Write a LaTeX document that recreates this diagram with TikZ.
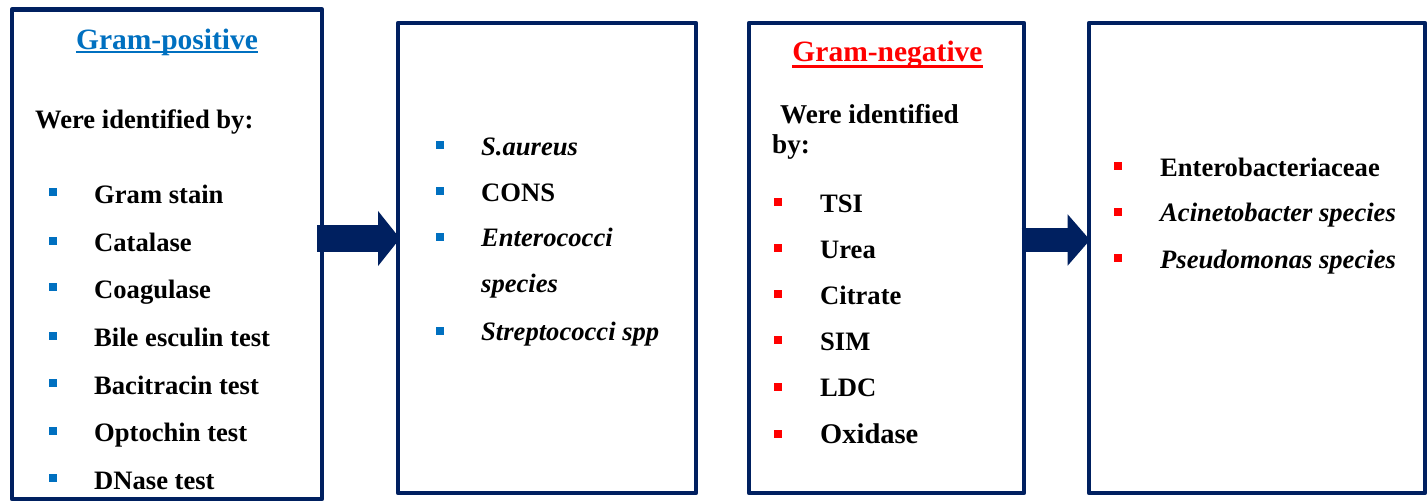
\documentclass[tikz,border=0pt]{standalone}
\usepackage{fontspec}
\setmainfont{Liberation Serif}
\usetikzlibrary{arrows.meta}
\definecolor{navy}{HTML}{002060}
\definecolor{gpblue}{HTML}{0070C0}
\definecolor{gnred}{HTML}{FF0000}
\tikzset{
  box/.style={draw=navy, line width=4.5pt, line join=round, outer sep=0pt, inner sep=0pt, fill=white},
  item/.style={anchor=base west, inner sep=0pt, font=\fontsize{26.6}{30}\selectfont\bfseries},
  itemit/.style={item, font=\fontsize{26.6}{30}\selectfont\bfseries\itshape},
  title/.style={anchor=base, inner sep=0pt, font=\fontsize{29.5}{33}\selectfont\bfseries},
  bul/.style={rectangle, minimum size=8pt, inner sep=0pt, outer sep=0pt},
  bulb/.style={bul, fill=gpblue},
  bulr/.style={bul, fill=gnred},
  bigarrow/.style={draw=navy, -{Triangle[length=22pt, width=54pt, fill=navy]}},
}
\begin{document}
\begin{tikzpicture}[x=1pt,y=-1pt]
\useasboundingbox (0,0) rectangle (1427,501);
\fill[white] (0,0) rectangle (1427,501);

% boxes
\node[box, minimum width=310pt, minimum height=489.5pt] (b1) at (167,254.25) {};
\node[box, minimum width=298pt, minimum height=470pt] (b2) at (547,258) {};
\node[box, minimum width=275pt, minimum height=470pt] (b3) at (886.5,258) {};
\node[box, minimum width=336pt, minimum height=470pt] (b4) at (1257,258) {};

% arrows
\coordinate (a1) at (0,238.5);
\coordinate (a2) at (0,240);
\draw[bigarrow, line width=26.7pt] ([xshift=-5pt]b1.east |- a1) -- ([xshift=2pt]b2.west |- a1);
\draw[bigarrow, line width=23.4pt, -{Triangle[length=22.3pt, width=50pt, fill=navy]}] ([xshift=-2.3pt]b3.east |- a2) -- ([xshift=1pt]b4.west |- a2);

% box 1
\node[title, text=gpblue] (t1) at (167,49.5) {Gram-positive};
\draw[gpblue, line width=2.4pt] ([yshift=-2.6pt]t1.base west) -- ([yshift=-2.6pt]t1.base east);
\node[item] (w1) at (35,128) {Were identified by:};
\node[item] (p1) at (94,203.3) {Gram stain};
\node[item] (p2) at (94,251.7) {Catalase};
\node[item] (p3) at (94,298.3) {Coagulase};
\node[item] (p4) at (94,346.7) {Bile esculin test};
\node[item] (p5) at (94,394.3) {Bacitracin test};
\node[item] (p6) at (94,441.7) {Optochin test};
\node[item] (p7) at (94,489.3) {DNase test};
\node[bulb] (pb1) at (53,192.3) {};
\node[bulb] (pb2) at (53,240.7) {};
\node[bulb] (pb3) at (53,287.3) {};
\node[bulb] (pb4) at (53,335.5) {};
\node[bulb] (pb5) at (53,383.3) {};
\node[bulb] (pb6) at (53,430.7) {};
\node[bulb] (pb7) at (53,478.3) {};

% box 2
\node[itemit] (q1) at (481,155) {S.aureus};
\node[item] (q2) at (481,201.7) {CONS};
\node[itemit] (q3) at (481,246.7) {Enterococci};
\node[itemit] (q3b) at (481,292.7) {species};
\node[itemit] (q4) at (481,340.7) {Streptococci spp};
\node[bulb] (qb1) at (440,145) {};
\node[bulb] (qb2) at (440,191) {};
\node[bulb] (qb3) at (440,236.7) {};
\node[bulb] (qb4) at (440,331) {};

% box 3
\node[title, text=gnred] (t3) at (887.5,61.7) {Gram-negative};
\draw[gnred, line width=2.2pt] ([yshift=-4.8pt]t3.base west) -- ([yshift=-4.8pt]t3.base east);
\node[item, font=\fontsize{27.2}{30}\selectfont\bfseries] (w3) at (780,123) {Were identified};
\node[item, font=\fontsize{27.2}{30}\selectfont\bfseries] (w3b) at (772,153) {by:};
\node[item] (r1) at (820,212.3) {TSI};
\node[item] (r2) at (820,258.3) {Urea};
\node[item] (r3) at (820,304) {Citrate};
\node[item] (r4) at (820,350) {SIM};
\node[item] (r5) at (820,396.7) {LDC};
\node[item, font=\fontsize{28.5}{31}\selectfont\bfseries] (r6) at (820,443.3) {Oxidase};
\node[bulr] (rb1) at (777.5,201.7) {};
\node[bulr] (rb2) at (777.5,248.3) {};
\node[bulr] (rb3) at (777.5,294.3) {};
\node[bulr] (rb4) at (777.5,340.3) {};
\node[bulr] (rb5) at (777.5,386.7) {};
\node[bulr] (rb6) at (777.5,434) {};

% box 4
\node[item] (s1) at (1160,176) {Enterobacteriaceae};
\node[itemit] (s2) at (1160,221.7) {Acinetobacter species};
\node[itemit] (s3) at (1160,268) {Pseudomonas species};
\node[bulr] (sb1) at (1117.5,166) {};
\node[bulr] (sb2) at (1117.5,212) {};
\node[bulr] (sb3) at (1117.5,258) {};
\end{tikzpicture}
\end{document}
